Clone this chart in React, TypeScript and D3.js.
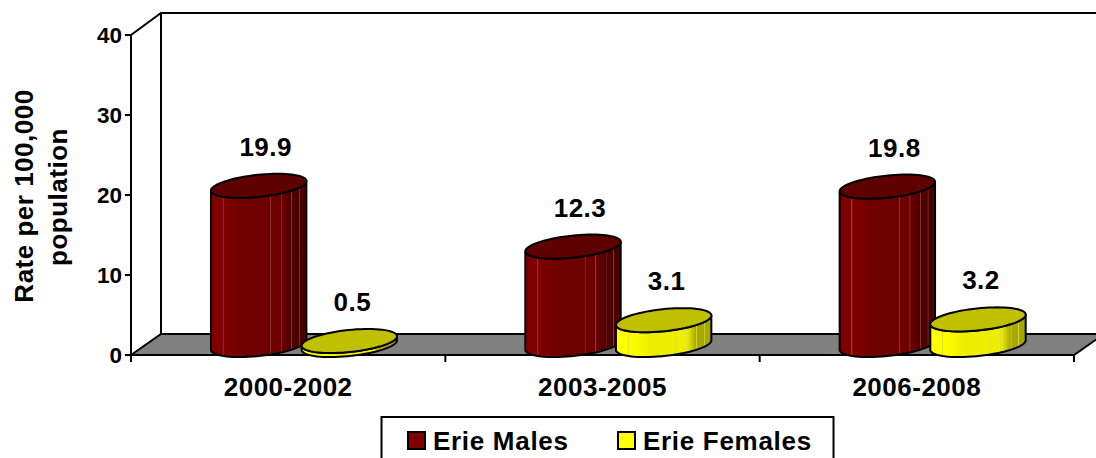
import React from "react";
import * as d3 from "d3";

const categories = ["2000-2002", "2003-2005", "2006-2008"];
const seriesNames = ["Erie Males", "Erie Females"];
const males = [19.9, 12.3, 19.8];
const females = [0.5, 3.1, 3.2];
const yTicks = [0, 10, 20, 30, 40];
const colors = {
  "Erie Males": { front: "#800000", mid: "#6e0000", top: "#5e0000", dark: "#4c0000", light: "#8f4040" },
  "Erie Females": { front: "#ffff00", mid: "#eeee00", top: "#c0c000", dark: "#a8a800", light: "#d8d840" },
};
const FONT = "'Liberation Sans', Arial, sans-serif";

const y = d3.scaleLinear().domain([0, 40]).range([355, 35]);
const x = d3.scaleBand().domain(categories).range([131, 1074]);
const sub = d3.scaleBand().domain(seriesNames).range([81, 265]).paddingInner(-0.03);

const RX = 48, RY = 11, TILT = (-6 * Math.PI) / 180, BASE_LIFT = 10;

function pt(cx: number, cy: number, t: number): [number, number] {
  const a = RX * Math.cos(t), b = RY * Math.sin(t);
  return [cx + a * Math.cos(TILT) - b * Math.sin(TILT), cy + a * Math.sin(TILT) + b * Math.cos(TILT)];
}
const line = d3.line();
function ellipsePath(cx: number, cy: number) {
  return line(d3.range(0, 73).map((i) => pt(cx, cy, (i / 72) * 2 * Math.PI)))! + "Z";
}
function sidePath(cx: number, topY: number, baseY: number) {
  const t0 = Math.atan2(RY * Math.tan(-TILT) * -1, RX);
  const lo = t0, hi = t0 + Math.PI;
  const front = d3.range(0, 37).map((i) => pt(cx, baseY, lo + ((hi - lo) * i) / 36));
  const top = d3.range(0, 37).map((i) => pt(cx, topY, hi - ((hi - lo) * i) / 36));
  return line([...front, ...top])! + "Z";
}

function Gradient({ id, c }: { id: string; c: (typeof colors)["Erie Males"] }) {
  const stops: [number, string][] = [
    [0, c.front], [0.12, c.front], [0.125, c.light], [0.14, c.front],
    [0.35, c.mid], [0.62, c.mid], [0.625, c.light], [0.635, c.mid],
    [0.73, c.mid], [0.735, c.light], [0.745, c.mid],
    [0.84, c.dark], [0.845, c.light], [0.855, c.dark],
    [0.92, c.dark], [0.925, c.light], [0.935, c.dark], [1, c.dark],
  ];
  return (
    <linearGradient id={id} x1="0" x2="1" y1="0" y2="0">
      {stops.map(([o, col], i) => <stop key={i} offset={o} stopColor={col} />)}
    </linearGradient>
  );
}

function Cylinder({ cx, value, name, id }: { cx: number; value: number; name: string; id: string }) {
  const baseY = y(0) - BASE_LIFT;
  const topY = y(value) - BASE_LIFT;
  const c = colors[name as keyof typeof colors];
  return (
    <g stroke="#000" strokeWidth={2}>
      <path d={sidePath(cx, topY, baseY)} fill={`url(#${id})`} />
      <path d={ellipsePath(cx, topY)} fill={c.top} />
    </g>
  );
}

export default function App() {
  return (
    <svg width={1096} height={458} style={{ position: "absolute", left: 0, top: 0 }} fontFamily={FONT} fontWeight="bold" fill="#000">
      <defs>
        <Gradient id="gm" c={colors["Erie Males"]} />
        <Gradient id="gf" c={colors["Erie Females"]} />
      </defs>
      <polygon points="131,355 161,334 1104,334 1074,355" fill="#808080" stroke="#000" strokeWidth={2} />
      <path d="M131,355V35L161,13H1096M161,13V334" fill="none" stroke="#000" strokeWidth={2} />
      {yTicks.map((t) => (
        <g key={t}>
          <line x1={125} x2={131} y1={y(t)} y2={y(t)} stroke="#000" strokeWidth={2} />
          <text x={122} y={y(t)} textAnchor="end" dominantBaseline="central" fontSize={22.5}>{t}</text>
        </g>
      ))}
      {[0, 1, 2, 3].map((i) => {
        const px = 131 + i * x.bandwidth();
        return <line key={i} x1={px} x2={px} y1={355} y2={362} stroke="#000" strokeWidth={2} />;
      })}
      {categories.map((cat) => (
        <text key={cat} x={x(cat)! + x.bandwidth() / 2} y={396} textAnchor="middle" fontSize={26} letterSpacing={0.5}>{cat}</text>
      ))}
      {categories.map((cat, i) => {
        const mx = x(cat)! + sub("Erie Males")! + sub.bandwidth() / 2;
        const fx = x(cat)! + sub("Erie Females")! + sub.bandwidth() / 2;
        return (
          <g key={cat}>
            <Cylinder cx={mx} value={males[i]} name="Erie Males" id="gm" />
            <Cylinder cx={fx} value={females[i]} name="Erie Females" id="gf" />
            <text x={mx + 7} y={y(males[i]) - 40} textAnchor="middle" fontSize={26} letterSpacing={0.5}>{males[i].toFixed(1)}</text>
            <text x={fx + 3} y={y(females[i]) - 40} textAnchor="middle" fontSize={26} letterSpacing={0.5}>{females[i].toFixed(1)}</text>
          </g>
        );
      })}
      <text transform="translate(33,196) rotate(-90)" textAnchor="middle" fontSize={26} letterSpacing={0.5}>Rate per 100,000</text>
      <text transform="translate(67,197) rotate(-90)" textAnchor="middle" fontSize={26} letterSpacing={0.5}>population</text>
      <rect x={381.5} y={417} width={452} height={50} fill="#fff" stroke="#000" strokeWidth={2} />
      {seriesNames.map((n, i) => {
        const lx = [408, 618][i];
        return (
          <g key={n}>
            <rect x={lx} y={432} width={17} height={17} fill={colors[n as keyof typeof colors].front} stroke="#000" strokeWidth={2} />
            <text x={lx + 25} y={450} fontSize={26} letterSpacing={0.7}>{n}</text>
          </g>
        );
      })}
    </svg>
  );
}
